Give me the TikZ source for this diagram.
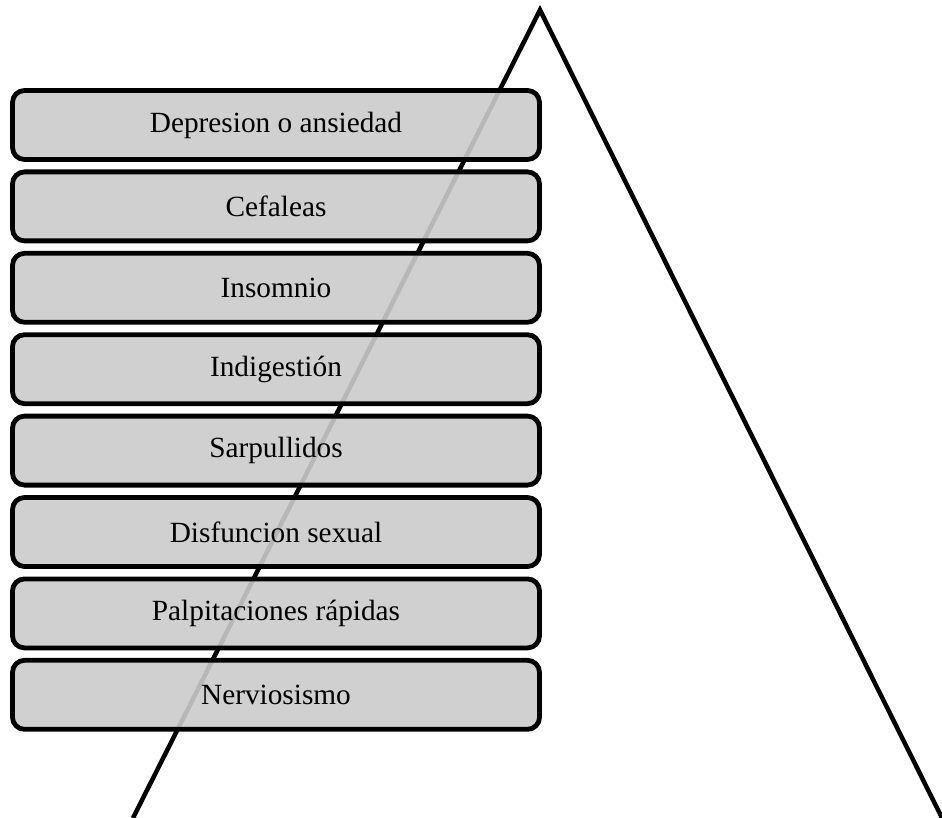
\documentclass[tikz,border=0pt]{standalone}
\usepackage{fontspec}
\setmainfont{Liberation Serif}
\usepackage{xcolor}
\usepackage{tikz}
\usetikzlibrary{positioning}

\definecolor{boxgray}{RGB}{203,203,203}

\begin{document}
\begin{tikzpicture}[x=1pt, y=-1pt, node distance=7.6pt]
        \tikzset{symptom/.style={rectangle, rounded corners=12pt, draw=black, line width=4.8pt,
                fill=boxgray, fill opacity=0.9, text opacity=1,
                minimum width=527pt, minimum height=69pt, inner sep=0pt,
                font=\fontsize{29.3}{34}\selectfont}}
        \tikzset{pyramid/.style={line width=4.5pt, line join=miter}}

        \useasboundingbox (0,0) rectangle (942,818);
        \clip (0,0) rectangle (942,818);

        % triangle behind the boxes
        \coordinate (apex) at (540,10);
        \coordinate (baseL) at (133,818);
        \coordinate (baseR) at (942,818);
        \draw [pyramid] (baseL) -- (apex) -- (baseR);

        \node [symptom] (s1) at (276,125) {Depresion o ansiedad};
        \node [symptom, below=of s1] (s2) {Cefaleas};
        \node [symptom, below=of s2] (s3) {Insomnio};
        \node [symptom, below=of s3] (s4) {Indigestión};
        \node [symptom, below=of s4] (s5) {Sarpullidos};
        \node [symptom, below=of s5] (s6) {Disfuncion sexual};
        \node [symptom, below=of s6] (s7) {Palpitaciones rápidas};
        \node [symptom, below=of s7] (s8) {Nerviosismo};
    \end{tikzpicture}
\end{document}
